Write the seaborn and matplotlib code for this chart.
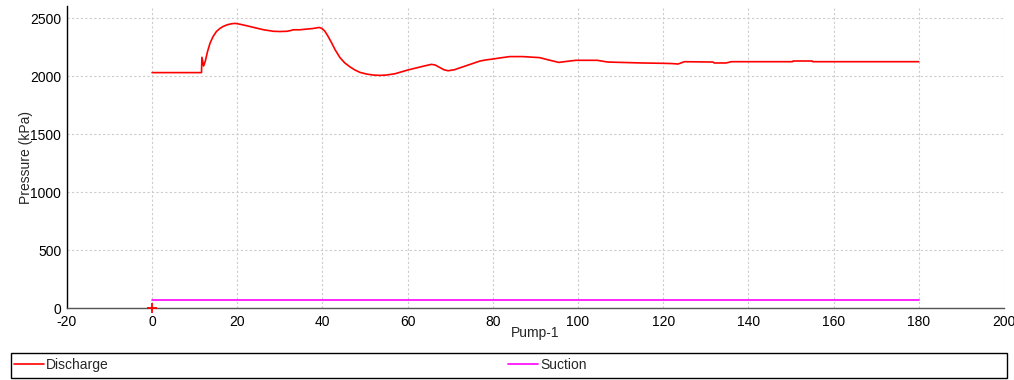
import numpy as np
import pandas as pd
import matplotlib
matplotlib.use("Agg")
import matplotlib.pyplot as plt
from matplotlib.patches import Rectangle
from matplotlib.lines import Line2D
import seaborn as sns

# Discharge pressure (kPa) vs time
discharge_t = [0, 11.6, 11.7, 12.1, 12.5, 13.0, 13.6, 14.3, 15.1, 15.9, 16.7, 17.7, 18.7,
               19.5, 20.5, 22.2, 24.0, 26.2, 28.5, 30.0, 31.6, 32.5, 33.1, 34.7, 36.0,
               37.8, 39.2, 39.8, 40.5, 41.2, 42.1, 43.0, 44.1, 45.2, 46.4, 47.6, 48.8,
               50.3, 51.9, 53.5, 55.0, 57.0, 60.0, 62.0, 64.0, 65.6, 66.5, 67.5, 68.5,
               69.5, 71.0, 73.0, 75.0, 77.0, 78.5, 80.0, 82.0, 84.0, 87.0, 91.0, 93.0,
               95.5, 97.0, 99.5, 104.5, 107.0, 110.0, 115.0, 120.0, 122.0, 123.5, 125.0,
               131.7, 132.0, 134.8, 136.0, 150.4, 150.5, 155.0, 155.1, 180.0]
discharge_p = [2030, 2030, 2162, 2087, 2130, 2210, 2283, 2340, 2384, 2410, 2428, 2443, 2451,
               2454, 2448, 2434, 2418, 2399, 2386, 2384, 2386, 2392, 2399, 2399, 2404,
               2410, 2419, 2412, 2390, 2350, 2290, 2225, 2160, 2115, 2081, 2053, 2032,
               2018, 2009, 2006, 2009, 2020, 2052, 2070, 2088, 2101, 2095, 2075, 2055,
               2046, 2055, 2080, 2105, 2130, 2140, 2147, 2158, 2168, 2168, 2159, 2140,
               2118, 2125, 2136, 2136, 2121, 2118, 2113, 2110, 2108, 2104, 2124,
               2121, 2113, 2113, 2124, 2124, 2130, 2130, 2124, 2124]

# Suction pressure (kPa)
suction_t = [0, 180]
suction_p = [70, 70]

x_ticks = [-20, 0, 20, 40, 60, 80, 100, 120, 140, 160, 180, 200]
y_ticks = [0, 500, 1000, 1500, 2000, 2500]
labels = ["Discharge", "Suction"]
colors = ["#ff0000", "#ff00ff"]

sns.set_theme(style="white")
plt.rcParams['font.family'] = ['Liberation Sans', 'DejaVu Sans']
plt.rcParams['axes.unicode_minus'] = False

df = pd.concat([
    pd.DataFrame({"t": discharge_t, "p": discharge_p, "series": labels[0]}),
    pd.DataFrame({"t": suction_t, "p": suction_p, "series": labels[1]}),
])

fig = plt.figure(figsize=(10.14, 3.8), dpi=100)
ax = fig.add_axes([0.066, 0.189, 0.924, 0.794])

sns.lineplot(data=df, x="t", y="p", hue="series",
             palette=dict(zip(labels, colors)),
             linewidth=1.2, ax=ax, legend=False, sort=False, estimator=None)
ax.plot([0], [0], marker="+", color="#ff0000", markersize=7, markeredgewidth=1.3,
        linestyle="none", clip_on=False, zorder=5)

ax.set_xlim(-20, 200)
ax.set_ylim(0, 2600)
ax.set_xticks(x_ticks)
ax.set_yticks(y_ticks)
ax.set_xlabel("Pump-1", fontsize=10, labelpad=-2)
ax.set_ylabel("Pressure (kPa)", fontsize=10, labelpad=-2)
ax.tick_params(axis="both", labelsize=10, direction="out", length=3, width=0.8,
               colors="#000000", pad=1)
ax.tick_params(axis="x", color="#555555", pad=2)
ax.grid(True, color="#cccccc", linestyle=(0, (2, 2)), linewidth=0.8)
for s in ["top", "right"]:
    ax.spines[s].set_visible(False)
ax.spines["left"].set_color("#000000")
ax.spines["left"].set_linewidth(1.0)
ax.spines["bottom"].set_color("#555555")
ax.spines["bottom"].set_linewidth(1.0)

# legend frame
fig.patches.append(Rectangle((0.0108, 0.005), 0.982, 0.066, transform=fig.transFigure,
                             fill=False, edgecolor="#000000", linewidth=1.0))
for lab, col, x0 in zip(labels, colors, [0.0135, 0.5005]):
    fig.legend([Line2D([], [], color=col, lw=1.2)], [lab], loc="center left",
               bbox_to_anchor=(x0, 0.039), frameon=False, fontsize=10,
               handlelength=2.2, handletextpad=0.15, borderpad=0, borderaxespad=0)

fig.savefig("out.png", dpi=100)
